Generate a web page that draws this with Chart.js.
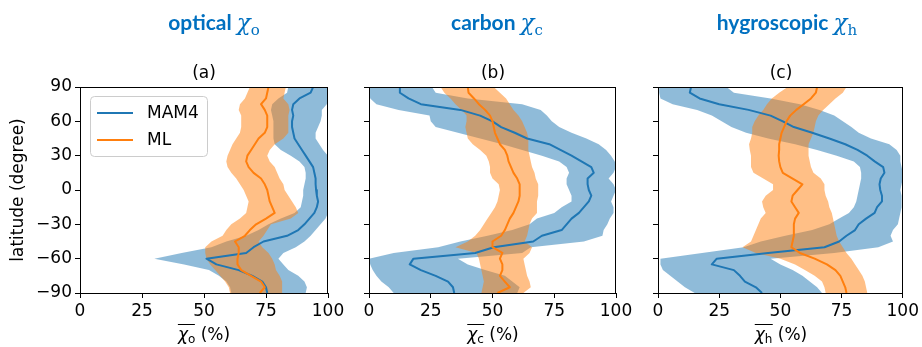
<!DOCTYPE html>
<html>
<head>
<meta charset="utf-8">
<script src="https://cdn.jsdelivr.net/npm/chart.js@4.4.1/dist/chart.umd.min.js"></script>
<style>
  html, body { margin: 0; padding: 0; background: #fff; }
  #wrap { position: relative; width: 922px; height: 347px; overflow: hidden; background: #fff; }
  canvas { position: absolute; left: 0; top: 0; }
  .ttl { position: absolute; top: 8px; transform: translateX(-50%); white-space: nowrap;
         font-family: Lato, 'Open Sans', sans-serif; font-weight: 700; font-size: 21px; color: #0070C0; line-height: 28px; }
  .ttl .chi { font-family: 'DejaVu Serif', 'Liberation Serif', serif; font-style: italic; font-weight: 400; font-size: 23px; }
  .ttl .sb { font-family: 'DejaVu Serif', 'Liberation Serif', serif; font-weight: 400; font-size: 15px; position: relative; top: 5px; }
  .sub { position: absolute; top: 62px; transform: translateX(-50%); white-space: nowrap;
         font-family: 'DejaVu Sans', sans-serif; font-size: 17px; line-height: 20px; color: #000; }
  .xt { position: absolute; top: 324px; transform: translateX(-50%); white-space: nowrap;
        font-family: 'DejaVu Sans', sans-serif; font-size: 17px; line-height: 20px; color: #000; }
  .xt .ol { display: inline-block; border-top: 1px solid #000; line-height: 17px; padding-top: 1px; }
  .xt .chi { font-style: italic; }
  .xt .sb { font-size: 12px; position: relative; top: 3px; }
</style>
</head>
<body>
<div id="wrap">
  <canvas id="cA" width="922" height="347"></canvas>
  <canvas id="cB" width="922" height="347"></canvas>
  <canvas id="cC" width="922" height="347"></canvas>

  <div class="ttl" style="left:214px">optical <span class="chi">χ</span><span class="sb">o</span></div>
  <div class="ttl" style="left:497px">carbon <span class="chi">χ</span><span class="sb">c</span></div>
  <div class="ttl" style="left:787px">hygroscopic <span class="chi">χ</span><span class="sb">h</span></div>

  <div class="sub" style="left:204px">(a)</div>
  <div class="sub" style="left:493px">(b)</div>
  <div class="sub" style="left:781px">(c)</div>

  <div class="xt" style="left:204px"><span class="ol"><span class="chi">χ</span><span class="sb">o</span></span> (%)</div>
  <div class="xt" style="left:493px"><span class="ol"><span class="chi">χ</span><span class="sb">c</span></span> (%)</div>
  <div class="xt" style="left:781px"><span class="ol"><span class="chi">χ</span><span class="sb">h</span></span> (%)</div>
</div>
<script>
// ---------------- DATA ----------------
const latitudes = [90, 85, 80, 75, 70, 65, 60, 55, 50, 45, 40, 35, 30, 25, 20, 15, 10, 5, 0,
                   -5, -10, -15, -20, -25, -30, -35, -40, -45, -50, -55, -60, -65, -70, -75, -80, -85, -90];
const latTickValues = [-90, -60, -30, 0, 30, 60, 90];
const pctTickValues = [0, 25, 50, 75, 100];
const seriesNames = ['MAM4', 'ML'];

// (a) optical
const optMam4Mean = [94, 93, 88.5, 86, 85.5, 86, 85.5, 85.5, 86, 86.5, 88, 89.5, 91, 92.5, 94, 94.5, 95, 95, 95.2,
                     95.5, 96, 95.5, 94.5, 92.5, 90.5, 88, 83.5, 74, 70, 67, 51, 55, 64, 69.5, 73.5, 75, 75.5];
const optMam4Lo = [84, 83.5, 80, 77.5, 77, 77.5, 78, 78, 78, 78, 78.5, 81, 85, 88.5, 90.5, 91, 91, 90.5, 90,
                   90, 89.5, 89, 86.5, 81, 76, 72, 67, 59, 53, 41, 30, 42, 52, 56, 59, 60.5, 61];
const optMam4Hi = [100, 100, 100, 99.5, 97.5, 97.5, 97, 96, 95, 95, 96.5, 98, 100, 100, 100, 100, 100, 100, 100,
                   100, 100, 100, 100, 99, 97, 95, 93, 90.5, 87, 82, 80, 82, 84, 88, 90.5, 91.5, 91];
const optMlMean = [76, 75.5, 75, 73, 74.5, 75.5, 75.5, 75.5, 74.5, 72, 70.5, 69, 67.5, 67, 68, 70, 73, 74.5, 75.5,
                   76, 76.5, 77.5, 78.5, 75, 71, 68.5, 66.5, 62.5, 64, 64, 63.5, 63.5, 65, 69, 73, 74.5, 72.5];
const optMlLo = [68.5, 67.5, 66.5, 64.5, 64, 65, 65, 65, 64.5, 63, 61.5, 60.5, 59.5, 59, 59.5, 61, 63, 64.5, 66,
                 67, 68, 67.5, 67, 64.5, 61, 59, 57.5, 53, 50.5, 50.5, 51, 52.5, 54.5, 56.5, 58.5, 60, 60.5];
const optMlHi = [83, 82.5, 82, 84, 84.5, 84, 84, 84, 84, 82, 78.5, 76.5, 75.5, 76.5, 78.5, 79.5, 80.5, 82, 82.5,
                 84, 85.5, 87, 88, 85, 77, 75.5, 74, 72, 73.5, 76, 77.5, 78.5, 79, 80.5, 81.5, 81.5, 81.5];

// (b) carbon
const carMam4Mean = [12.5, 12.5, 16, 21, 37, 45, 50, 53.5, 59, 64, 73, 77.5, 82, 86, 90, 91, 88.5, 88.5, 89,
                     90, 89, 87, 85, 82, 80, 78, 70, 66.5, 50.5, 43, 18, 16.5, 21, 27, 32, 34, 34.5];
const carMam4Lo = [0, 0, 0.5, 3, 12, 24.5, 25, 27, 36, 45, 54, 62, 70, 77, 80, 81, 80, 80, 81,
                   82, 82, 78, 75, 68, 65, 58, 48, 37, 28, 10, 0, 0.5, 1.5, 3, 5, 8, 10];
const carMam4Hi = [25.5, 27, 40, 62, 69.5, 72, 74, 77, 82, 88, 93, 96, 98, 99.5, 100, 99, 97, 99, 100,
                   99, 98, 99, 99, 97.5, 96.5, 95, 94.5, 87, 65.5, 62, 36, 40, 47, 55, 58, 61, 60];
const carMlMean = [40, 40.3, 42.5, 44.5, 47, 49, 50, 50.5, 51, 52, 53, 55, 56, 56.5, 57.5, 58.5, 60, 61, 61,
                   61, 60.5, 59.5, 58.5, 57, 56, 55, 53.5, 50, 50, 54, 53, 54, 54, 53, 55, 57, 52];
const carMlLo = [29, 30.5, 33, 35, 37.5, 39.5, 39.5, 39, 39.5, 40, 42, 45, 47.5, 48.5, 49, 49, 50, 52.5, 53,
                 52.5, 52, 51, 49.5, 48, 46.5, 45, 43, 40, 35, 43.5, 44.5, 45, 45.5, 46, 46.5, 46, 45.5];
const carMlHi = [50.5, 53, 55.5, 57, 58.5, 60.5, 62, 63, 64, 64.5, 64.5, 64.5, 65, 65.5, 66, 67, 67.5, 68.5, 68.5,
                 68.5, 68, 68, 68, 66, 65, 64.5, 64, 63, 66, 65, 62.5, 63, 63.5, 64, 65, 65.5, 62.5];

// (c) hygroscopic
const hygMam4Mean = [13.5, 13, 17, 25, 37, 46, 51, 55.5, 63, 70, 76.5, 81.5, 85.5, 88.5, 92, 92.5, 91, 90.5, 90.8,
                     91.5, 91.5, 89.5, 88.5, 85, 82, 80.5, 77, 74, 68, 45, 24, 22, 31, 33.5, 35.5, 40, 42.5];
const hygMam4Lo = [0.5, 0.5, 1, 6, 16, 22, 26, 30, 36, 45, 56, 65, 73, 80, 82.5, 83, 83, 82.5, 82,
                   81.5, 81, 80, 78, 74, 70, 63, 52, 42, 35, 18, 1, 1, 2, 5, 8, 11, 15];
const hygMam4Hi = [28, 31, 46, 58, 66, 72, 75.5, 79, 82, 87, 94.5, 97.5, 99, 99, 99.5, 100, 100, 99.5, 99,
                   99.5, 99.5, 99.5, 99, 98.5, 98, 96, 95, 96, 90, 72, 46, 50, 55, 59, 62, 65, 67];
const hygMlMean = [65, 64.5, 62.5, 59.5, 56.5, 54, 52.5, 51.5, 50.5, 50, 49.5, 49.5, 49.3, 49.5, 50, 51, 55, 59, 57,
                   55, 54.5, 56, 57.5, 56, 55.5, 55.5, 55.5, 55, 54.5, 58, 64, 69, 72.5, 74.5, 75.5, 76.5, 77];
const hygMlLo = [53, 49.5, 46.5, 44.5, 43, 41, 39.5, 38.5, 38.5, 38, 37.2, 37.5, 38, 38, 38, 39, 43, 47, 47,
                 44, 42.5, 43, 44, 42, 41, 40, 39, 38, 34.5, 40, 50, 56, 60, 64, 67, 68, 68.5];
const hygMlHi = [77, 75.5, 72.5, 70, 67.5, 65.5, 64.5, 64, 63.5, 62.5, 61.5, 61.5, 61.5, 62, 62.5, 63.5, 66.5, 68, 68,
                 68.5, 69.5, 70, 71, 71.5, 72, 72.5, 73, 74, 75.5, 77, 79, 80.5, 82, 83.5, 84.5, 85, 85.5];

// ---------------- STYLE / HELPERS ----------------
const BLUE = '#1f77b4', ORANGE = '#ff7f0e';
const BLUE_FILL = 'rgba(31,119,180,0.5)', ORANGE_FILL = 'rgba(255,127,14,0.5)';
const FONT = { family: "'DejaVu Sans', sans-serif", size: 17 };

function pts(xs) { return xs.map((x, i) => ({ x: x, y: latitudes[i] })); }
function band(lo, hi) { return pts(lo).concat(pts(hi).reverse()); }
function minusFmt(v) { return v < 0 ? '\u2212' + Math.abs(v) : String(v); }

const frame = {
  id: 'frame',
  afterDraw(chart) {
    const a = chart.chartArea, ctx = chart.ctx;
    ctx.save();
    ctx.strokeStyle = '#000';
    ctx.lineWidth = 1;
    const l = Math.round(a.left) + 0.5, t = Math.round(a.top) + 0.5;
    const r = Math.round(a.right) - 0.5, b = Math.round(a.bottom) + 0.5;
    ctx.strokeRect(l, t, r - l, b - t);
    ctx.restore();
  }
};

const legendBox = {
  id: 'legendBox',
  afterDraw(chart) {
    const a = chart.chartArea, ctx = chart.ctx;
    const items = chart.data.datasets.filter(d => d.inLegend);
    const x0 = a.left + 10.5, y0 = a.top + 9.5, w = 117, h = 60, r = 4;
    ctx.save();
    ctx.beginPath();
    ctx.moveTo(x0 + r, y0);
    ctx.arcTo(x0 + w, y0, x0 + w, y0 + h, r);
    ctx.arcTo(x0 + w, y0 + h, x0, y0 + h, r);
    ctx.arcTo(x0, y0 + h, x0, y0, r);
    ctx.arcTo(x0, y0, x0 + w, y0, r);
    ctx.closePath();
    ctx.fillStyle = 'rgba(255,255,255,0.8)';
    ctx.fill();
    ctx.strokeStyle = '#cccccc';
    ctx.lineWidth = 1;
    ctx.stroke();
    ctx.font = "17px 'DejaVu Sans', sans-serif";
    ctx.textBaseline = 'middle';
    ctx.fillStyle = '#000';
    items.forEach((d, i) => {
      const y = Math.round(y0 + 16 + i * 27.5);
      ctx.strokeStyle = d.borderColor;
      ctx.lineWidth = 2;
      ctx.beginPath();
      ctx.moveTo(x0 + 6.5, y);
      ctx.lineTo(x0 + 42.5, y);
      ctx.stroke();
      ctx.fillText(d.label, x0 + 56.5, y + 1);
    });
    ctx.restore();
  }
};

function makeChart(id, d, cfg) {
  const datasets = [
    { label: seriesNames[0], inLegend: true, data: pts(d.m1), borderColor: BLUE, borderWidth: 2, fill: false, order: 2 },
    { label: seriesNames[1], inLegend: true, data: pts(d.m2), borderColor: ORANGE, borderWidth: 2, fill: false, order: 1 },
    { label: seriesNames[0] + ' range', data: band(d.lo1, d.hi1), borderWidth: 0, borderColor: 'rgba(0,0,0,0)',
      backgroundColor: BLUE_FILL, fill: 'shape', order: 4 },
    { label: seriesNames[1] + ' range', data: band(d.lo2, d.hi2), borderWidth: 0, borderColor: 'rgba(0,0,0,0)',
      backgroundColor: ORANGE_FILL, fill: 'shape', order: 3 }
  ];
  return new Chart(document.getElementById(id), {
    type: 'line',
    data: { datasets },
    options: {
      responsive: false,
      animation: false,
      devicePixelRatio: 1,
      events: [],
      elements: { point: { radius: 0, hoverRadius: 0 }, line: { tension: 0, borderJoinStyle: 'round', borderCapStyle: 'butt' } },
      layout: { padding: { left: cfg.padLeft, right: cfg.padRight, top: 87, bottom: 0 } },
      plugins: { legend: { display: false }, tooltip: { enabled: false }, title: { display: false } },
      scales: {
        x: {
          type: 'linear', min: 0, max: 100,
          afterBuildTicks: s => { s.ticks = pctTickValues.map(v => ({ value: v })); },
          afterFit: s => { s.height = 54; },
          grid: { display: true, drawOnChartArea: false, drawTicks: true, tickLength: 5, color: '#000', lineWidth: 1 },
          border: { display: true, color: '#000', width: 1 },
          ticks: { color: '#000', font: FONT, padding: 3, maxRotation: 0, autoSkip: false }
        },
        y: {
          type: 'linear', min: -90, max: 90,
          afterBuildTicks: s => { s.ticks = latTickValues.map(v => ({ value: v })); },
          afterFit: s => { s.width = cfg.yWidth; },
          grid: { display: true, drawOnChartArea: false, drawTicks: true, tickLength: 5, color: '#000', lineWidth: 1 },
          border: { display: true, color: '#000', width: 1 },
          ticks: { display: cfg.yLabels, color: '#000', font: FONT, padding: 3, autoSkip: false, callback: v => minusFmt(v) },
          title: { display: cfg.yLabels, text: 'latitude (degree)', color: '#000', font: FONT, padding: { top: 8, bottom: 0 } }
        }
      }
    },
    plugins: cfg.legend ? [frame, legendBox] : [frame]
  });
}

makeChart('cA', { m1: optMam4Mean, lo1: optMam4Lo, hi1: optMam4Hi, m2: optMlMean, lo2: optMlLo, hi2: optMlHi },
  { padLeft: 0, padRight: 922 - 328, yWidth: 80, yLabels: true, legend: true });
makeChart('cB', { m1: carMam4Mean, lo1: carMam4Lo, hi1: carMam4Hi, m2: carMlMean, lo2: carMlLo, hi2: carMlHi },
  { padLeft: 369 - 40, padRight: 922 - 616, yWidth: 40, yLabels: false, legend: false });
makeChart('cC', { m1: hygMam4Mean, lo1: hygMam4Lo, hi1: hygMam4Hi, m2: hygMlMean, lo2: hygMlLo, hi2: hygMlHi },
  { padLeft: 658 - 40, padRight: 922 - 904, yWidth: 40, yLabels: false, legend: false });
</script>
</body>
</html>
